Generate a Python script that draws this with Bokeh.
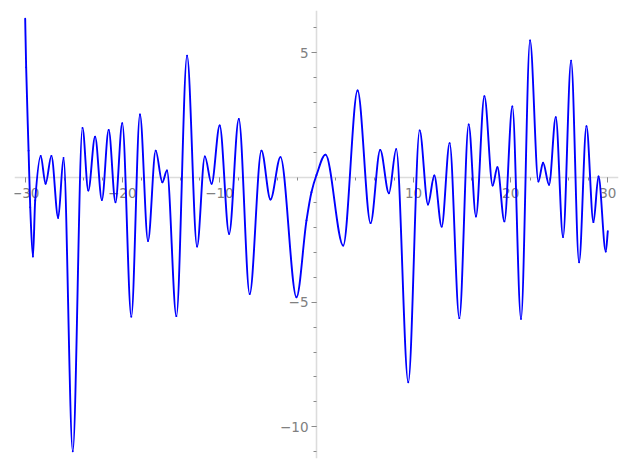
from bokeh.plotting import figure
from bokeh.models import FixedTicker, Range1d, ColumnDataSource
from bokeh.embed import file_html
from bokeh.resources import INLINE

# Points (x, y): extrema plus a few points on asymmetric flanks
xs = [-30.0, -29.9, -29.65, -29.48, -29.2, -28.97, -28.4, -27.9, -27.3, -26.6,
      -26.05, -25.1, -24.1, -23.5, -22.8, -22.1, -21.4, -20.7, -20.0, -19.07,
      -18.18, -17.35, -16.56, -15.88, -15.4, -14.43, -13.33, -12.3, -11.5, -10.8,
      -9.97, -9.0, -8.0, -6.88, -5.67, -4.74, -3.71,
      -2.06, -1.03, -0.52, 0.0, 0.93, 2.75,
      4.23, 5.57, 6.56, 7.46, 8.21, 9.45, 10.62, 11.48,
      12.13, 12.89, 13.71, 14.71, 15.67, 16.42, 17.29, 18.14, 18.63, 19.35,
      20.17, 21.06, 21.99, 22.85, 23.33, 23.95, 24.64, 25.39, 26.22, 27.04,
      27.8, 28.52, 29.04, 29.79, 30.0]
ys = [6.37, 4.42, 1.08, -1.19, -3.17, -0.92, 0.87, -0.25, 0.87, -1.62,
      0.79, -10.98, 1.99, -0.52, 1.64, -0.9, 1.91, -0.99, 2.18, -5.58,
      2.53, -2.55, 1.08, -0.19, 0.28, -5.56, 4.89, -2.77, 0.85, -0.25,
      2.09, -2.26, 2.35, -4.67, 1.08, -0.88, 0.82,
      -4.8, -1.72, -0.59, 0.1, 0.92, -2.73,
      3.49, -1.83, 1.11, -0.63, 1.14, -8.21, 1.89, -1.08,
      0.08, -1.97, 1.38, -5.64, 2.13, -1.56, 3.26, -0.32, 0.41, -1.76,
      2.85, -5.67, 5.5, -0.16, 0.59, -0.29, 2.42, -2.39, 4.69, -3.4,
      2.06, -1.79, 0.04, -2.97, -2.15]

x_major = [-30, -20, -10, 10, 20, 30]
x_minor = [-30, -28, -26, -24, -22, -20, -18, -16, -14, -12, -10, -8, -6, -4, -2,
           2, 4, 6, 8, 10, 12, 14, 16, 18, 20, 22, 24, 26, 28, 30]
y_major = [-10, -5, 5]
y_minor = [-11, -10, -9, -8, -7, -6, -5, -4, -3, -2, -1, 1, 2, 3, 4, 5, 6]


def pchip_tangents(x, y):
    """Shape-preserving tangents so the drawn curve passes smoothly through the read points."""
    n = len(x)
    h = [x[i + 1] - x[i] for i in range(n - 1)]
    d = [(y[i + 1] - y[i]) / h[i] for i in range(n - 1)]
    m = [0.0] * n
    m[0] = d[0]
    m[-1] = d[-1]
    for i in range(1, n - 1):
        if d[i - 1] * d[i] <= 0:
            m[i] = 0.0
        else:
            w1 = 2 * h[i] + h[i - 1]
            w2 = h[i] + 2 * h[i - 1]
            m[i] = (w1 + w2) / (w1 / d[i - 1] + w2 / d[i])
    return m


m = pchip_tangents(xs, ys)
seg = dict(x0=[], y0=[], x1=[], y1=[], cx0=[], cy0=[], cx1=[], cy1=[])
for i in range(len(xs) - 1):
    hh = xs[i + 1] - xs[i]
    seg["x0"].append(xs[i]); seg["y0"].append(ys[i])
    seg["x1"].append(xs[i + 1]); seg["y1"].append(ys[i + 1])
    seg["cx0"].append(xs[i] + hh / 3); seg["cy0"].append(ys[i] + m[i] * hh / 3)
    seg["cx1"].append(xs[i + 1] - hh / 3); seg["cy1"].append(ys[i + 1] - m[i + 1] * hh / 3)
src = ColumnDataSource(seg)

p = figure(width=620, height=462, output_backend="svg", toolbar_location=None,
           x_range=Range1d(-31.1, 31.1), y_range=Range1d(-11.27, 6.70),
           min_border_left=14, min_border_right=2, min_border_top=10, min_border_bottom=4)
p.outline_line_color = None
p.grid.visible = False
p.background_fill_color = "white"
p.border_fill_color = "white"

p.bezier(x0="x0", y0="y0", x1="x1", y1="y1", cx0="cx0", cy0="cy0", cx1="cx1", cy1="cy1",
         source=src, line_color="#0000ff", line_width=1.9, line_cap="round")

p.xaxis.ticker = FixedTicker(ticks=x_major, minor_ticks=x_minor)
p.yaxis.ticker = FixedTicker(ticks=y_major, minor_ticks=y_minor)
for ax in (p.xaxis[0], p.yaxis[0]):
    ax.fixed_location = 0
    ax.level = "underlay"
    ax.axis_line_color = "#dcdcdc"
    ax.axis_line_width = 1.6
    ax.major_tick_line_color = "#8a8a8a"
    ax.minor_tick_line_color = "#8a8a8a"
    ax.major_tick_in = 0
    ax.major_tick_out = 5
    ax.minor_tick_in = 0
    ax.minor_tick_out = 3
    ax.major_label_text_font = "DejaVu Sans"
    ax.major_label_text_font_size = "13.5px"
    ax.major_label_text_color = "#808080"
p.xaxis.major_label_standoff = 5
p.yaxis.major_label_standoff = 3
p.xaxis.major_label_overrides = {v: ("\u2212" + str(-v) if v < 0 else str(v)) for v in x_major}
p.yaxis.major_label_overrides = {v: ("\u2212" + str(-v) if v < 0 else str(v)) for v in y_major}

open("out.html", "w").write(file_html(p, INLINE))
